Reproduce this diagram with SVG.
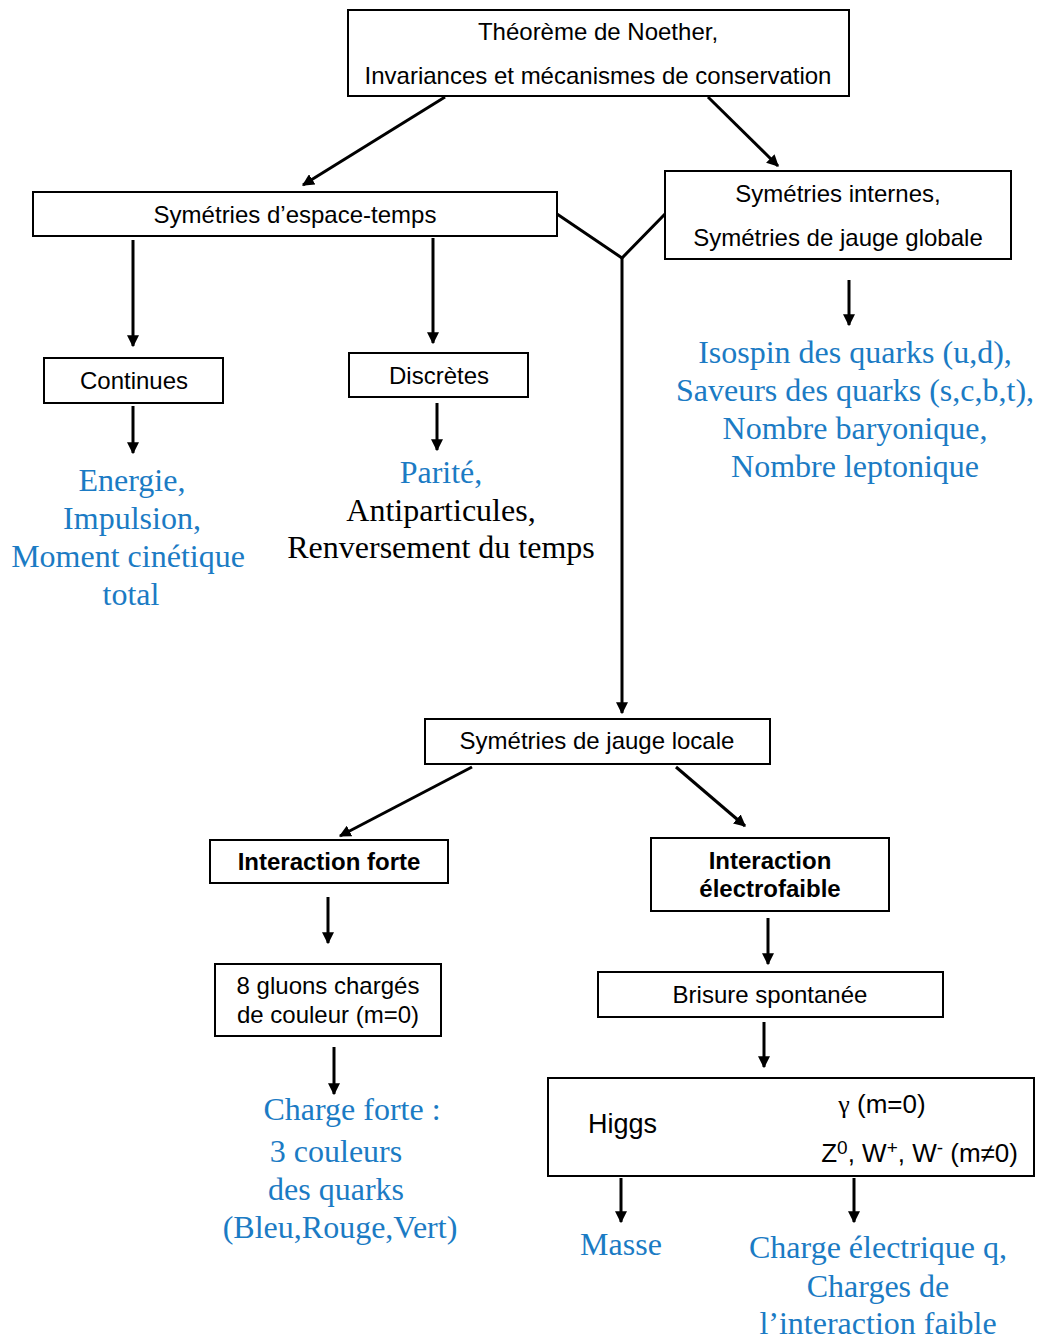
<svg xmlns="http://www.w3.org/2000/svg" width="1038" height="1339" viewBox="0 0 1038 1339">
<style>
.box{fill:#fff;stroke:#000;stroke-width:2}
.s{font-family:"Liberation Sans",Arial,sans-serif;font-size:24px;fill:#000;text-anchor:middle}
.b{font-weight:bold}
.t{font-family:"Liberation Serif","Times New Roman",serif;font-size:32px;text-anchor:middle}
.blue{fill:#1b7bc4}
.blk{fill:#000}
.c{stroke:#000;stroke-width:3;fill:none}
</style>
<defs>
<marker id="ah" viewBox="0 0 10 10" refX="9" refY="5" markerWidth="4" markerHeight="4" markerUnits="strokeWidth" orient="auto">
<path d="M0,0 L10,5 L0,10 z" fill="#000"/>
</marker>
</defs>
<rect width="1038" height="1339" fill="#fff"/>
<g id="connectors">
<line class="c" x1="445" y1="97" x2="303" y2="185" marker-end="url(#ah)"/>
<line class="c" x1="708" y1="97" x2="778" y2="166" marker-end="url(#ah)"/>
<polyline class="c" points="557,214 622,258 665,214"/>
<line class="c" x1="622" y1="258" x2="622" y2="713" marker-end="url(#ah)"/>
<line class="c" x1="133" y1="240" x2="133" y2="346" marker-end="url(#ah)"/>
<line class="c" x1="433" y1="238" x2="433" y2="343" marker-end="url(#ah)"/>
<line class="c" x1="133" y1="406" x2="133" y2="453" marker-end="url(#ah)"/>
<line class="c" x1="437" y1="403" x2="437" y2="450" marker-end="url(#ah)"/>
<line class="c" x1="849" y1="280" x2="849" y2="325" marker-end="url(#ah)"/>
<line class="c" x1="472" y1="767" x2="340" y2="836" marker-end="url(#ah)"/>
<line class="c" x1="676" y1="767" x2="745" y2="826" marker-end="url(#ah)"/>
<line class="c" x1="328" y1="897" x2="328" y2="943" marker-end="url(#ah)"/>
<line class="c" x1="334" y1="1047" x2="334" y2="1094" marker-end="url(#ah)"/>
<line class="c" x1="768" y1="918" x2="768" y2="964" marker-end="url(#ah)"/>
<line class="c" x1="764" y1="1022" x2="764" y2="1067" marker-end="url(#ah)"/>
<line class="c" x1="621" y1="1178" x2="621" y2="1222" marker-end="url(#ah)"/>
<line class="c" x1="854" y1="1178" x2="854" y2="1222" marker-end="url(#ah)"/>
</g>
<g id="noether">
<rect class="box" x="348" y="10" width="501" height="86"/>
<text class="s" x="598" y="40">Théorème de Noether,</text>
<text class="s" x="598" y="84">Invariances et mécanismes de conservation</text>
</g>
<g id="espace-temps">
<rect class="box" x="33" y="192" width="524" height="44"/>
<text class="s" x="295" y="223">Symétries d’espace-temps</text>
</g>
<g id="internes">
<rect class="box" x="665" y="171" width="346" height="88"/>
<text class="s" x="838" y="202">Symétries internes,</text>
<text class="s" x="838" y="246">Symétries de jauge globale</text>
</g>
<g id="continues">
<rect class="box" x="44" y="358" width="179" height="45"/>
<text class="s" x="134" y="389">Continues</text>
</g>
<g id="discretes">
<rect class="box" x="349" y="353" width="179" height="44"/>
<text class="s" x="439" y="384">Discrètes</text>
</g>
<g id="continues-list">
<text class="t blue" x="132" y="491">Energie,</text>
<text class="t blue" x="132" y="529">Impulsion,</text>
<text class="t blue" x="128" y="567">Moment cinétique</text>
<text class="t blue" x="131" y="605">total</text>
</g>
<g id="discretes-list">
<text class="t blue" x="441" y="483">Parité,</text>
<text class="t blk" x="441" y="521">Antiparticules,</text>
<text class="t blk" x="441" y="558">Renversement du temps</text>
</g>
<g id="internes-list">
<text class="t blue" x="855" y="363">Isospin des quarks (u,d),</text>
<text class="t blue" x="855" y="401">Saveurs des quarks (s,c,b,t),</text>
<text class="t blue" x="855" y="439">Nombre baryonique,</text>
<text class="t blue" x="855" y="477">Nombre leptonique</text>
</g>
<g id="jauge-locale">
<rect class="box" x="425" y="719" width="345" height="45"/>
<text class="s" x="597" y="749">Symétries de jauge locale</text>
</g>
<g id="forte">
<rect class="box" x="210" y="840" width="238" height="43"/>
<text class="s b" x="329" y="870">Interaction forte</text>
</g>
<g id="electrofaible">
<rect class="box" x="651" y="838" width="238" height="73"/>
<text class="s b" x="770" y="869">Interaction</text>
<text class="s b" x="770" y="897">électrofaible</text>
</g>
<g id="gluons">
<rect class="box" x="215" y="964" width="226" height="72"/>
<text class="s" x="328" y="994">8 gluons chargés</text>
<text class="s" x="328" y="1023">de couleur (m=0)</text>
</g>
<g id="brisure">
<rect class="box" x="598" y="972" width="345" height="45"/>
<text class="s" x="770" y="1003">Brisure spontanée</text>
</g>
<g id="higgs">
<rect class="box" x="548" y="1078" width="486" height="98"/>
<text class="s" x="588" y="1133" style="text-anchor:start;font-size:27px">Higgs</text>
<text class="s" x="882" y="1113" style="font-size:26px"><tspan font-family="Liberation Serif,serif">γ</tspan> (m=0)</text>
<text class="s" x="1018" y="1162" style="text-anchor:end;font-size:26px">Z<tspan font-size="19" dy="-8">0</tspan><tspan dy="8">, W</tspan><tspan font-size="19" dy="-8">+</tspan><tspan dy="8">, W</tspan><tspan font-size="19" dy="-8">-</tspan><tspan dy="8"> (m≠0)</tspan></text>
</g>
<g id="charge-forte">
<text class="t blue" x="352" y="1120">Charge forte :</text>
<text class="t blue" x="336" y="1162">3 couleurs</text>
<text class="t blue" x="336" y="1200">des quarks</text>
<text class="t blue" x="340" y="1238">(Bleu,Rouge,Vert)</text>
</g>
<g id="masse">
<text class="t blue" x="621" y="1255">Masse</text>
</g>
<g id="charge-elec">
<text class="t blue" x="878" y="1258">Charge électrique q,</text>
<text class="t blue" x="878" y="1297">Charges de</text>
<text class="t blue" x="878" y="1334">l’interaction faible</text>
</g>
</svg>
